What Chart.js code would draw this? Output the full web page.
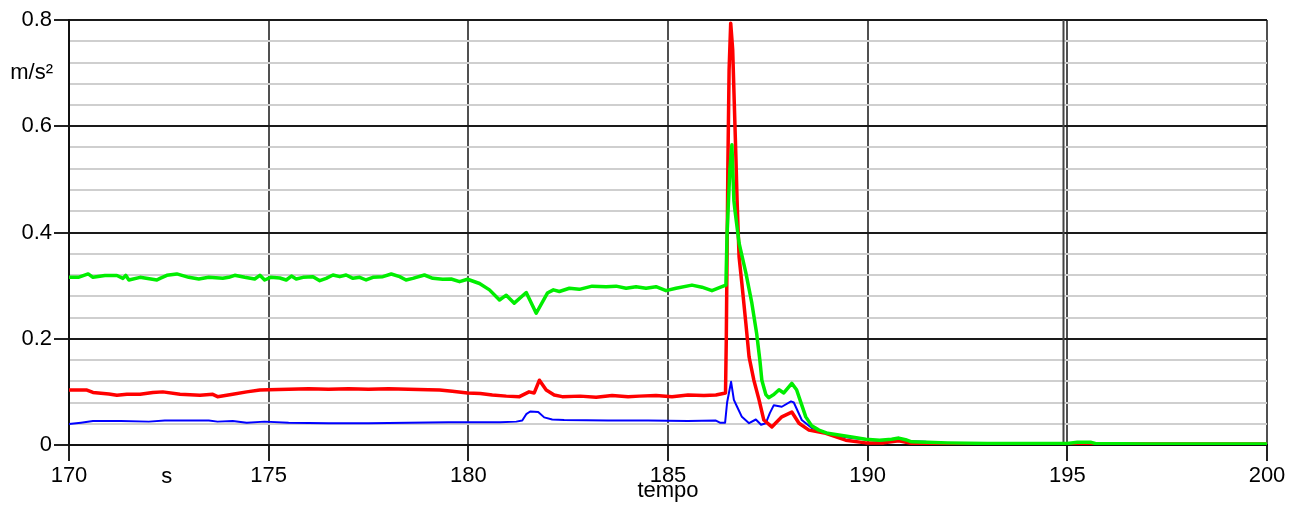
<!DOCTYPE html>
<html>
<head>
<meta charset="utf-8">
<script src="https://cdn.jsdelivr.net/npm/chart.js@4/dist/chart.umd.min.js"></script>
<style>
  html, body { margin: 0; padding: 0; background: #fff; }
  #wrap { width: 1304px; height: 506px; }
</style>
</head>
<body>
<div id="wrap"><canvas id="c" width="1304" height="506"></canvas></div>
<script>
// Acceleration components (m/s²) against time (s)
const greenTime = [170.0,170.25,170.48,170.6,170.9,171.2,171.35,171.42,171.5,171.78,172.05,172.2,172.28,172.45,172.7,173.0,173.25,173.5,173.85,174.0,174.15,174.4,174.65,174.78,174.9,175.05,175.28,175.44,175.57,175.69,175.86,176.11,176.28,176.44,176.61,176.78,176.94,177.11,177.28,177.44,177.61,177.86,178.07,178.28,178.44,178.61,178.9,179.11,179.36,179.57,179.78,179.98,180.28,180.53,180.78,180.95,181.15,181.45,181.7,181.98,182.13,182.28,182.53,182.78,183.1,183.45,183.7,183.95,184.2,184.45,184.7,184.95,185.2,185.6,185.85,186.1,186.35,186.45,186.48,186.55,186.6,186.65,186.68,186.78,186.95,187.1,187.22,187.3,187.35,187.45,187.52,187.65,187.78,187.9,188.1,188.22,188.35,188.45,188.6,188.78,189.0,189.28,189.6,189.95,190.3,190.6,190.78,190.95,191.1,191.5,192.0,193.0,194.0,195.0,195.25,195.6,195.7,197.0,200.0];
const greenValues = [0.316,0.316,0.322,0.3156,0.319,0.319,0.3137,0.3194,0.3106,0.3156,0.3125,0.3106,0.3137,0.3194,0.322,0.3156,0.3125,0.3156,0.3137,0.3156,0.3194,0.3156,0.3125,0.3194,0.3106,0.3156,0.3144,0.3106,0.318,0.3125,0.3156,0.3169,0.3093,0.3137,0.32,0.3169,0.32,0.3137,0.3156,0.3106,0.3156,0.3169,0.3219,0.3169,0.3106,0.3137,0.32,0.3137,0.3118,0.3125,0.3075,0.312,0.304,0.292,0.273,0.282,0.267,0.287,0.248,0.286,0.292,0.289,0.295,0.293,0.299,0.298,0.299,0.295,0.298,0.295,0.298,0.2905,0.295,0.301,0.297,0.2905,0.298,0.301,0.40,0.52,0.565,0.46,0.44,0.38,0.324,0.267,0.21,0.16,0.122,0.095,0.089,0.095,0.104,0.098,0.116,0.104,0.075,0.053,0.036,0.028,0.022,0.019,0.015,0.011,0.009,0.011,0.013,0.010,0.006,0.005,0.004,0.003,0.003,0.003,0.005,0.005,0.003,0.002,0.002];

const redTime = [170.0,170.45,170.6,171.0,171.2,171.45,171.78,172.1,172.35,172.78,173.28,173.6,173.72,174.1,174.45,174.78,175.0,175.5,176.0,176.5,177.0,177.5,178.0,178.5,179.0,179.28,179.6,179.98,180.3,180.6,180.95,181.28,181.52,181.65,181.78,181.95,182.15,182.35,182.8,183.2,183.6,184.0,184.28,184.7,185.1,185.5,185.9,186.2,186.44,186.46,186.5,186.53,186.57,186.62,186.66,186.7,186.73,186.78,186.85,186.95,187.03,187.15,187.28,187.4,187.6,187.85,188.1,188.28,188.53,188.95,189.45,189.95,190.4,190.78,191.1,191.5,200.0];
const redValues = [0.1035,0.1035,0.099,0.096,0.0935,0.0954,0.0954,0.099,0.100,0.0954,0.0935,0.0954,0.091,0.0954,0.100,0.1035,0.104,0.105,0.106,0.105,0.106,0.105,0.106,0.105,0.104,0.1035,0.101,0.098,0.097,0.094,0.092,0.091,0.100,0.098,0.122,0.1035,0.094,0.091,0.092,0.090,0.093,0.091,0.092,0.093,0.091,0.094,0.093,0.094,0.098,0.20,0.53,0.706,0.794,0.744,0.643,0.543,0.46,0.354,0.304,0.229,0.166,0.122,0.085,0.047,0.034,0.053,0.062,0.041,0.028,0.022,0.009,0.004,0.004,0.008,0.003,0.002,0.002];

const blueTime = [170.0,170.3,170.6,171.3,172.0,172.4,173.5,173.72,174.1,174.45,174.9,175.5,176.5,177.5,178.5,179.5,180.0,180.8,181.2,181.35,181.45,181.55,181.75,181.9,182.1,182.4,183.5,184.5,185.5,186.2,186.3,186.43,186.48,186.58,186.65,186.73,186.85,187.03,187.2,187.33,187.45,187.55,187.65,187.85,188.08,188.15,188.35,188.6,189.1,189.6,190.28,191.0,191.45,191.6,200.0];
const blueValues = [0.0395,0.042,0.045,0.045,0.044,0.046,0.046,0.044,0.045,0.042,0.044,0.042,0.041,0.041,0.042,0.043,0.043,0.043,0.044,0.046,0.058,0.063,0.062,0.052,0.048,0.047,0.046,0.046,0.045,0.046,0.042,0.042,0.08,0.119,0.085,0.072,0.053,0.041,0.048,0.038,0.041,0.06,0.075,0.072,0.082,0.080,0.047,0.032,0.019,0.013,0.008,0.007,0.006,0.003,0.002];

const xTicks = [170, 175, 180, 185, 190, 195, 200];
const yMajorStep = 0.2;
const yMinorStep = 0.04;
const cursorTime = 194.9;

const FONT = '"Liberation Sans", Arial, sans-serif';

function pairs(ts, vs) { return ts.map((t, i) => ({ x: t, y: vs[i] })); }
function isMajorY(v) { return Math.abs(v / yMajorStep - Math.round(v / yMajorStep)) < 1e-6; }

// Unit labels and the vertical cursor line
const extras = {
  id: 'extras',
  beforeDatasetsDraw(chart) {
    const { ctx, chartArea, scales } = chart;
    const xc = Math.round(scales.x.getPixelForValue(cursorTime)) + 0.5;
    ctx.save();
    ctx.strokeStyle = '#444';
    ctx.lineWidth = 2;
    ctx.beginPath();
    ctx.moveTo(xc, chartArea.top);
    ctx.lineTo(xc, chartArea.bottom);
    ctx.stroke();
    ctx.restore();
  },
  afterDraw(chart) {
    const { ctx, chartArea, scales } = chart;
    ctx.save();
    ctx.fillStyle = '#000';
    ctx.font = '22px ' + FONT;
    ctx.textAlign = 'right';
    ctx.textBaseline = 'middle';
    ctx.fillText('m/s²', chartArea.left - 16, scales.y.getPixelForValue(0.7));
    ctx.textAlign = 'center';
    ctx.textBaseline = 'alphabetic';
    ctx.fillText('s', scales.x.getPixelForValue(172.45), chartArea.bottom + 38);
    ctx.restore();
  }
};

new Chart(document.getElementById('c'), {
  type: 'line',
  data: {
    datasets: [
      { data: pairs(greenTime, greenValues), borderColor: '#00ee00', borderWidth: 3.5 },
      { data: pairs(redTime, redValues), borderColor: '#ff0000', borderWidth: 3.5 },
      { data: pairs(blueTime, blueValues), borderColor: '#0000ff', borderWidth: 2 }
    ]
  },
  options: {
    responsive: false,
    animation: false,
    parsing: false,
    normalized: true,
    elements: { point: { radius: 0 }, line: { tension: 0, borderJoinStyle: 'round' } },
    layout: { padding: { left: 0, top: 20, right: 37, bottom: 0 } },
    plugins: { legend: { display: false }, tooltip: { enabled: false } },
    scales: {
      x: {
        type: 'linear',
        min: 170, max: 200,
        afterBuildTicks(scale) { scale.ticks = xTicks.map(v => ({ value: v })); },
        afterFit(scale) { scale.height = 61; },
        grid: { color: '#505050', lineWidth: 2, tickLength: 16, tickColor: '#222' },
        border: { color: '#111', width: 2 },
        ticks: { autoSkip: false, maxRotation: 0, padding: 2, color: '#000', font: { family: FONT, size: 22 } },
        title: { display: true, text: 'tempo', color: '#000', font: { family: FONT, size: 22, lineHeight: 1.0 }, padding: { top: 0, bottom: 4 } }
      },
      y: {
        type: 'linear',
        min: 0, max: 0.8,
        ticks: {
          stepSize: yMinorStep,
          autoSkip: false,
          padding: 2,
          color: '#000',
          font: { family: FONT, size: 22 },
          callback(v) { return isMajorY(v) ? (Math.abs(v) < 1e-9 ? '0' : v.toFixed(1)) : ''; }
        },
        afterFit(scale) { scale.width = 69; },
        grid: {
          tickLength: 15,
          color: c => isMajorY(c.tick.value) ? '#1a1a1a' : '#cfcfcf',
          lineWidth: c => isMajorY(c.tick.value) ? 2 : 2,
          tickColor: c => isMajorY(c.tick.value) ? '#222' : 'rgba(0,0,0,0)'
        },
        border: { color: '#111', width: 2 }
      }
    }
  },
  plugins: [extras]
});
</script>
</body>
</html>
